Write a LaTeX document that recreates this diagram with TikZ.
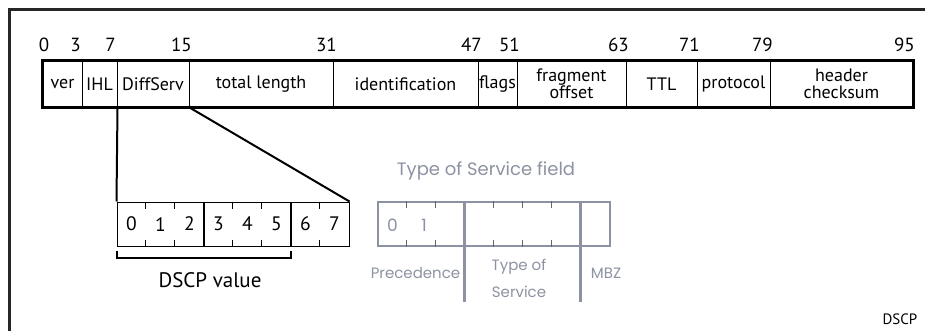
\documentclass[tikz,border=0pt]{standalone}
\usepackage{fontspec}
\setmainfont{PT Sans}
\newfontfamily\tosfont{Poppins}
\usepackage{tikz}
\usetikzlibrary{positioning}
\usepackage{xcolor}
\definecolor{tosgray}{RGB}{140,146,162}
\definecolor{tosdark}{RGB}{95,100,115}

\begin{document}
\begin{tikzpicture}[x=1pt,y=-1pt,
  % header fields (1 unit = 1 pixel of the reference)
  field/.style={draw,line width=1pt,minimum height=46pt,inner sep=0pt,
                align=center,font=\fontsize{18}{17}\selectfont},
  % bit numbers above the header
  bitno/.style={anchor=base east,inner sep=0pt,font=\fontsize{19}{19}\selectfont},
  % one byte drawn as a box of 8 cells
  byte/.style={rectangle,minimum width=232pt,minimum height=44pt,inner sep=0pt},
  bit/.style={inner sep=0pt,font=\fontsize{19.5}{19}\selectfont},
  tos/.style={text=tosgray,align=center,inner sep=0pt,font=\tosfont\fontsize{15}{27}\selectfont},
  link/.style={line width=2pt}
]
  \useasboundingbox (0,0) rectangle (925,331);
  % ---- Frame (only top and left edge show) ----
  \draw[line width=3pt,color=black!85] (9.5,340) -- (9.5,9.5) -- (935,9.5);

  % ---- IP header fields ----
  \node[field,minimum width=39pt]  (ver)   at (62.5,84)  {ver};
  \node[field,minimum width=35pt]  (ihl)   at (99.5,84)  {IHL};
  \node[field,minimum width=72pt]  (diff)  at (153,84)   {DiffServ};
  \node[field,minimum width=144pt] (tlen)  at (261,84)   {total length};
  \node[field,minimum width=145pt] (ident) at (405.5,84) {identification};
  \node[field,minimum width=39pt]  (flags) at (497.5,84) {flags};
  \node[field,minimum width=109pt] (frag)  at (571.5,84) {fragment\\offset};
  \node[field,minimum width=71pt]  (ttl)   at (661.5,84) {TTL};
  \node[field,minimum width=73pt]  (proto) at (733.5,84) {protocol};
  \node[field,minimum width=143pt] (cks)   at (841.5,84) {header\\checksum};
  \draw[line width=2.5pt] (ver.north west) rectangle (cks.south east);

  % ---- Bit numbers ----
  \node[bitno,anchor=base] (n0)  at (44,52)  {0};
  \node[bitno] (n3)  at (81,52)  {3};
  \node[bitno] (n7)  at (116,52) {7};
  \node[bitno] (n15) at (192,52) {15};
  \node[bitno] (n31) at (337,52) {31};
  \node[bitno] (n47) at (482,52) {47};
  \node[bitno] (n51) at (520,52) {51};
  \node[bitno] (n63) at (629,52) {63};
  \node[bitno] (n71) at (700,52) {71};
  \node[bitno] (n79) at (773,52) {79};
  \node[bitno] (n95) at (915,52) {95};

  % ---- DiffServ byte ----
  \node[byte,draw,line width=1pt] (dscp) at (233,224) {};
  \foreach \i in {1,2,4,5,7}{
    \draw[line width=1pt] (dscp.north west) ++(29*\i,0) -- ++(0,7);
    \draw[line width=1pt] (dscp.south west) ++(29*\i,0) -- ++(0,-7);
  }
  \draw[line width=2pt] (dscp.north west) ++(87,0) -- ++(0,44);
  \draw[line width=2pt] (dscp.north west) ++(174,0) -- ++(0,44);
  \node[bit] (b0) at (131.5,224) {0};
  \node[bit] (b1) at (160.5,225) {1};
  \node[bit] (b2) at (189.5,224) {2};
  \node[bit] (b3) at (218.5,224) {3};
  \node[bit] (b4) at (247.5,224) {4};
  \node[bit] (b5) at (276.5,224) {5};
  \node[bit] (b6) at (305.5,224) {6};
  \node[bit] (b7) at (334.5,224) {7};

  % zoom lines from the header down to the byte
  \draw[link] (ihl.south east)  -- (dscp.north west);
  \draw[link] (diff.south east) -- (dscp.north east);

  % bracket over the six DSCP bits
  \coordinate (brl) at (117,251);
  \coordinate (brr) at (291,251);
  \draw[link] (brl) -- ++(0,7) -| (brr);
  \node[font=\fontsize{21}{21}\selectfont] (dval) at (210,280) {DSCP value};

  % ---- Old Type of Service byte (grey) ----
  \node[font=\tosfont\fontsize{18}{18}\selectfont,text=tosgray] (tostitle) at (486,171) {Type of Service field};
  \node[byte,draw=tosgray,line width=1.2pt] (tosb) at (494,224) {};
  \foreach \i in {1,2,4,5,6}{
    \draw[tosdark,line width=1.2pt] (tosb.north west) ++(29*\i,0) -- ++(0,7);
    \draw[tosdark,line width=1.2pt] (tosb.south west) ++(29*\i,0) -- ++(0,-7);
  }
  \draw[tosgray,line width=2.5pt] (tosb.north west) ++(87,0) -- ++(0,101);
  \draw[tosgray,line width=2.5pt] (tosb.north west) ++(203,0) -- ++(0,101);
  \node[bit,font=\tosfont\fontsize{17}{17}\selectfont,text=tosgray] (t0) at (392.5,225) {0};
  \node[bit,font=\tosfont\fontsize{17}{17}\selectfont,text=tosgray] (t1) at (424,225) {1};
  \node[tos] (prec) at (415.5,273) {Precedence};
  \node[tos] (tosl) at (519,278)   {Type of\\Service};
  \node[tos] (mbz)  at (606,273)   {MBZ};

  % ---- Figure tag ----
  \node[font=\fontsize{15}{15}\selectfont] (tag) at (900,319) {DSCP};
\end{tikzpicture}
\end{document}
